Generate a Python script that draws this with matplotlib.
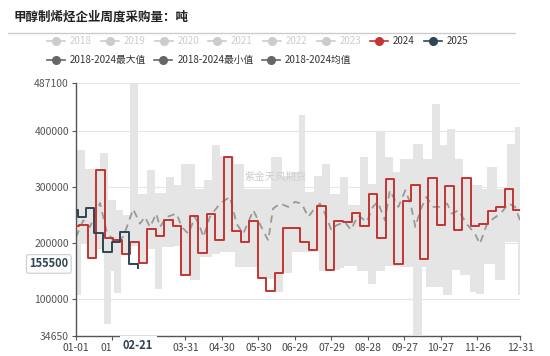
import numpy as np
import pandas as pd
import matplotlib
matplotlib.use("Agg")
import matplotlib.pyplot as plt
from matplotlib.lines import Line2D

plt.rcParams['font.family'] = ['Noto Sans CJK SC', 'DejaVu Sans']

# ---- data ----
title = "甲醇制烯烃企业周度采购量：吨"

# 2024 weekly purchases (day-of-year where each weekly value starts)
days_2024 = np.r_[0, np.arange(2.5, 365, 7)]
vals_2024 = [230000, 233000, 174000, 331500, 209500, 206500, 181500, 202400, 165000, 226000,
             212500, 241000, 230300, 142900, 248800, 183300, 251800, 205400, 354100, 221400,
             201800, 240500, 138100, 114300, 147600, 227000, 227000, 201800, 187500, 266000,
             153000, 240500, 237500, 253500, 231500, 288000, 209000, 314800, 163100, 276200,
             304700, 171400, 316600, 232700, 302900, 224400, 316600, 231500, 233900, 258300,
             264300, 296400, 258900]

days_2025 = [0, 1.6, 8.2, 15, 22, 29.5, 36.2, 43.6, 51]
vals_2025 = [260000, 246400, 262500, 217900, 185100, 201800, 219600, 163100, 155500]

# 2018-2024 max / min envelope (step starts)
band_days = [0, 4, 7.5, 9.5, 17, 19.7, 23, 26.5, 29, 31, 33, 37, 39, 44, 50.7, 58.4, 65, 71, 74,
             80.8, 86, 93.7, 98, 102, 105, 111.6, 118, 130, 131, 138, 149.5, 160, 163, 169, 170,
             177.5, 183, 188.3, 191, 196, 200, 202, 209, 210, 217, 220, 224, 231, 233.5, 240, 247,
             254, 261, 266.4, 277.4, 284.4, 285.6, 288, 292.5, 299.3, 302, 304.8, 309, 311.6, 316,
             318.5, 323.5, 325.4, 329, 333.6, 335, 338, 344.6, 346, 352.6, 354, 361, 363.5, 365]
band_max = [366000, 366000, 333000, 333000, 333000, 362000, 362000, 277000, 277000, 277000,
            259000, 259000, 250000, 487100, 288700, 330300, 289800, 289800, 318400, 303500,
            342200, 342200, 297600, 297600, 312400, 375000, 356000, 342000, 342000, 297600,
            297600, 354000, 354000, 321000, 321000, 327000, 429700, 291600, 291600, 320000,
            320000, 342000, 288700, 288700, 318400, 318400, 268000, 268000, 354000, 306500,
            398700, 354000, 327300, 351000, 378000, 378000, 351000, 351000, 449300, 375000,
            375000, 404700, 404700, 351000, 351000, 317000, 317000, 303500, 303500, 297600,
            297600, 336000, 336000, 297600, 297600, 378000, 407700, 407700, 407700]
band_min = [107000, 200000, 200000, 172000, 190000, 190000, 55000, 55000, 150000, 111000,
            111000, 180000, 180000, 195000, 163000, 190000, 119000, 193000, 193000, 195000,
            141000, 134000, 134000, 175000, 175000, 180000, 184500, 184500, 157700, 157700,
            136000, 136000, 113000, 113000, 146000, 185000, 185000, 185000, 185000, 185000,
            150000, 150000, 150000, 152000, 155000, 160000, 160000, 150000, 150000, 128000,
            150000, 160000, 160000, 157700, 36000, 157700, 157700, 122000, 122000, 122000,
            107000, 107000, 151800, 151800, 143000, 143000, 113100, 113100, 110000, 110000,
            163700, 163700, 134000, 134000, 202000, 202000, 202000, 107000, 107000]

# 2018-2024 mean
mean_days = [0, 6, 11.5, 19.7, 25, 32, 39, 47, 52.6, 56.7, 60.8, 66, 69, 74.5, 82.7, 86.9, 92.4,
             97.8, 102, 104.7, 110, 118.4, 126.6, 132, 137.5, 145.8, 151, 158, 162, 167.7,
             174.5, 180, 185.5, 191, 195, 200.6, 204.7, 210, 214, 221, 226, 232, 239, 244, 248,
             254, 258, 265, 270.7, 275, 279, 283, 288, 293.8, 299, 305, 309, 314.5, 321, 328,
             332, 338, 343, 349, 355.7, 361, 365]
mean_vals = [211000, 241000, 229000, 272000, 223000, 200000, 212000, 261000, 235000, 247000,
             229000, 253000, 229000, 247000, 253000, 229000, 217000, 247000, 229000, 211000,
             247000, 271000, 283000, 235000, 217000, 259000, 235000, 205000, 262000, 271000,
             265000, 274000, 271000, 247000, 259000, 271000, 253000, 223000, 232000, 238000,
             224000, 250000, 238000, 265000, 274000, 241000, 294600, 265000, 294600, 271000,
             229000, 259000, 282700, 265000, 265000, 271000, 253000, 259000, 235000, 217000,
             199000, 235000, 244000, 253000, 271000, 265000, 241000]

y_ticks = [34650, 100000, 200000, 300000, 400000, 487100]
x_tick_days = [0, 30, 60, 90, 120, 150, 180, 210, 240, 270, 300, 330, 365]
pointer_day = 51

legend_row1 = ["2018", "2019", "2020", "2021", "2022", "2023", "2024", "2025"]
legend_row2 = ["2018-2024最大值", "2018-2024最小值", "2018-2024均值"]

C24 = "#c23531"
C25 = "#2f4554"

fig = plt.figure(figsize=(5.5, 3.56), dpi=100)
ax = fig.add_axes([76 / 550, 1 - 335.7 / 356, 444 / 550, 253 / 356])

ax.fill_between(band_days, band_min, band_max, step="post", color="#e5e5e5", lw=0, zorder=1)
ax.plot(mean_days, mean_vals, color="#999999", lw=1.3, dashes=(4, 3), zorder=2)
ax.plot(np.r_[days_2024, 365], vals_2024 + [vals_2024[-1]], drawstyle="steps-post",
        color=C24, lw=1.4, zorder=3)
ax.plot(days_2025, vals_2025, drawstyle="steps-post", color=C25, lw=1.4, zorder=4)

ax.set_xlim(0, 365)
ax.set_ylim(y_ticks[0], y_ticks[-1])
ax.set_yticks(y_ticks)
ax.set_yticklabels([str(v) for v in y_ticks])
for v in y_ticks[1:]:
    ax.axhline(v, color="#e6e6e6", lw=0.8, zorder=0)

start = pd.Timestamp("2024-01-01")
xlabels = [(start + pd.Timedelta(days=d)).strftime("%m-%d") for d in x_tick_days]
xlabels[-1] = "12-31"
# labels under the pointer box: only "01" of 01-31 shows, 03-01 is hidden
xlabels[1] = "01"
xlabels[2] = ""
ax.set_xticks(x_tick_days)
ax.set_xticklabels(xlabels)
ax.get_xticklabels()[1].set_ha("right")

for s in ["top", "right"]:
    ax.spines[s].set_visible(False)
for s in ["left", "bottom"]:
    ax.spines[s].set_color("#555555")
    ax.spines[s].set_linewidth(1)
ax.tick_params(axis="both", colors="#555555", labelsize=7.5, length=3, width=0.8, pad=2)
ax.tick_params(axis="x", labelcolor="#444444")
ax.tick_params(axis="y", labelcolor="#555555")

# axis pointer labels
ax.annotate((start + pd.Timedelta(days=pointer_day)).strftime("%m-%d"),
            xy=(pointer_day, 0), xycoords=("data", "axes fraction"),
            xytext=(0, -7), textcoords="offset points", ha="center", va="center",
            fontsize=8, fontweight="bold", color="#2f3f4f",
            bbox=dict(boxstyle="square,pad=0.3", fc="white", ec="none"),
            annotation_clip=False, zorder=10)
ax.annotate(str(vals_2025[-1]), xy=(0, vals_2025[-1]), xycoords=("axes fraction", "data"),
            xytext=(-5.5, 3), textcoords="offset points", ha="right", va="center",
            fontsize=8, fontweight="bold", color=C25,
            bbox=dict(boxstyle="round,pad=0.25,rounding_size=0.2", fc="white", ec="#cccccc", lw=0.8),
            annotation_clip=False, zorder=10)

# watermark
ax.text(0.45, 0.63, "紫金天风期货", transform=ax.transAxes, fontsize=7.5,
        color="#cfcfcf", ha="center", va="center", zorder=2)

# title and divider
fig.text(14 / 550, 1 - 17 / 356, title, fontsize=9, fontweight="bold", color="#222222",
         ha="left", va="center")
fig.add_artist(Line2D([8 / 550, 515 / 550], [1 - 32.5 / 356] * 2, color="#cccccc", lw=1))

# legend (manual, two rows)
row1_x = [56, 110, 163.7, 217.3, 271.7, 325.7, 379, 433.3]
row1_c = ["#cccccc"] * 6 + [C24, C25]
row1_tc = ["#cccccc"] * 6 + ["#333333", "#333333"]
for lab, cx, c, tc in zip(legend_row1, row1_x, row1_c, row1_tc):
    yy = 1 - 41 / 356
    fig.add_artist(Line2D([(cx - 9) / 550, (cx + 9) / 550], [yy, yy], color=c, lw=1.2))
    fig.add_artist(Line2D([cx / 550], [yy], marker="o", ms=5.5, color=c))
    fig.text((cx + 13.5) / 550, yy, lab, fontsize=7, color=tc, va="center", ha="left")
row2_x = [56, 163.3, 270.7]
for lab, cx in zip(legend_row2, row2_x):
    yy = 1 - 60 / 356
    fig.add_artist(Line2D([(cx - 9) / 550, (cx + 9) / 550], [yy, yy], color="#666666", lw=1.2))
    fig.add_artist(Line2D([cx / 550], [yy], marker="o", ms=5.5, color="#666666"))
    fig.text((cx + 14) / 550, yy, lab, fontsize=7, color="#333333", va="center", ha="left")

fig.savefig("out.png", dpi=100)
